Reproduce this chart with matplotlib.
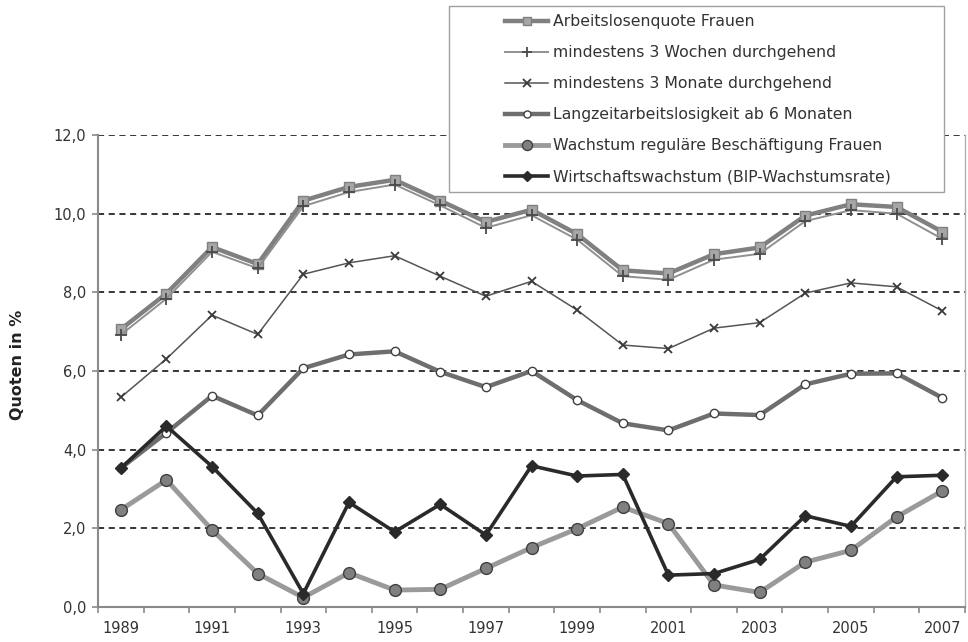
import matplotlib
matplotlib.use('Agg')
import matplotlib.pyplot as plt
import numpy as np
from matplotlib.patches import Rectangle

# Data
years = [str(y) for y in range(1989, 2008)]
alq_frauen = [7.06, 7.97, 9.15, 8.72, 10.33, 10.68, 10.86, 10.33, 9.79, 10.10, 9.48,
              8.56, 8.48, 8.97, 9.14, 9.95, 10.24, 10.17, 9.54]
drei_wochen = [6.92, 7.84, 9.03, 8.61, 10.19, 10.55, 10.74, 10.21, 9.64, 9.96, 9.34,
               8.41, 8.32, 8.83, 8.98, 9.81, 10.09, 10.00, 9.36]
drei_monate = [5.33, 6.31, 7.42, 6.93, 8.46, 8.75, 8.93, 8.41, 7.90, 8.28, 7.55,
               6.66, 6.57, 7.09, 7.23, 7.98, 8.24, 8.14, 7.53]
langzeit = [3.53, 4.43, 5.37, 4.87, 6.07, 6.42, 6.50, 5.98, 5.59, 6.00, 5.26,
            4.67, 4.49, 4.92, 4.88, 5.66, 5.93, 5.94, 5.32]
wachstum_besch = [2.47, 3.23, 1.96, 0.85, 0.24, 0.87, 0.43, 0.45, 0.98, 1.51, 1.99,
                  2.54, 2.12, 0.56, 0.37, 1.14, 1.44, 2.29, 2.95]
bip = [3.53, 4.60, 3.57, 2.38, 0.34, 2.66, 1.91, 2.61, 1.83, 3.59, 3.33,
       3.37, 0.81, 0.85, 1.21, 2.32, 2.05, 3.31, 3.35]

labels = ['Arbeitslosenquote Frauen',
          'mindestens 3 Wochen durchgehend',
          'mindestens 3 Monate durchgehend',
          'Langzeitarbeitslosigkeit ab 6 Monaten',
          'Wachstum reguläre Beschäftigung Frauen',
          'Wirtschaftswachstum (BIP-Wachstumsrate)']

plt.rcParams['font.family'] = ['DejaVu Sans']

fig = plt.figure(figsize=(9.68, 6.42), dpi=100)
ax = fig.add_axes([98/968, 1 - 607/642, (965 - 98)/968, (607 - 135)/642])

x = np.arange(len(years))

ax.plot(x, alq_frauen, color='#808080', lw=3.2, marker='s', ms=6.5,
        mfc='#a6a6a6', mec='#808080', label=labels[0], zorder=3)
ax.plot(x, drei_wochen, color='#909090', lw=1.4, marker='+', ms=8, mew=1.3,
        mec='#4a4a4a', label=labels[1], zorder=4)
ax.plot(x, drei_monate, color='#555555', lw=1.1, marker='x', ms=6, mew=1.3,
        mec='#3a3a3a', label=labels[2], zorder=3)
ax.plot(x, langzeit, color='#6e6e6e', lw=3.2, marker='o', ms=6,
        mfc='white', mec='#404040', mew=1.0, label=labels[3], zorder=3)
ax.plot(x, wachstum_besch, color='#9a9a9a', lw=3.5, marker='o', ms=8.5,
        mfc='#808080', mec='#404040', mew=1.0, label=labels[4], zorder=4)
ax.plot(x, bip, color='#2a2a2a', lw=2.6, marker='D', ms=6.5,
        mfc='#2a2a2a', mec='#2a2a2a', label=labels[5], zorder=5)

ax.set_xlim(-0.5, len(years) - 0.5)
ax.set_ylim(0, 12)
ax.set_yticks(np.arange(0, 13, 2))
ax.set_yticklabels([f'{v:.1f}'.replace('.', ',') for v in np.arange(0, 13, 2)])
ax.set_xticks(x[::2])
ax.set_xticklabels(years[::2])
ax.set_xticks(np.arange(-0.5, len(years), 1), minor=True)

for v in range(2, 13, 2):
    ax.axhline(v, color='black', lw=1.1, ls=(0, (4, 3)), zorder=1)

for side in ['left', 'bottom', 'right']:
    ax.spines[side].set_color('#8a8a8a')
    ax.spines[side].set_linewidth(1.5)
ax.spines['right'].set_color('#b0b0b0')
ax.spines['right'].set_linewidth(1.0)
ax.spines['top'].set_visible(False)

ax.tick_params(axis='y', length=4, width=1.2, color='#8a8a8a', pad=4.5,
               labelsize=10.5, labelcolor='#333333')
ax.tick_params(axis='x', which='major', length=0, pad=10,
               labelsize=10.5, labelcolor='#333333')
ax.tick_params(axis='x', which='minor', length=4, width=1.2, color='#8a8a8a')

fig.text(18/968, 1 - 365/642, 'Quoten in %', rotation=90, ha='center', va='center',
         fontsize=11.5, fontweight='bold', color='#222222')

# Legend box sits above the plot area
box = Rectangle((449/968, 1 - 192/642), (944 - 449)/968, (192 - 6)/642,
                transform=fig.transFigure, facecolor='white', edgecolor='#a0a0a0',
                lw=1.0, zorder=10)
fig.add_artist(box)
leg = fig.legend(loc='upper left', bbox_to_anchor=(505/968, 1 - 14/642),
                 frameon=False, fontsize=11.3, handlelength=2.75, handletextpad=0.3,
                 labelspacing=1.02, borderpad=0, borderaxespad=0, numpoints=1,
                 markerscale=0.85)
leg.set_zorder(11)
for t in leg.get_texts():
    t.set_color('#333333')

fig.savefig('out.png', dpi=100)
